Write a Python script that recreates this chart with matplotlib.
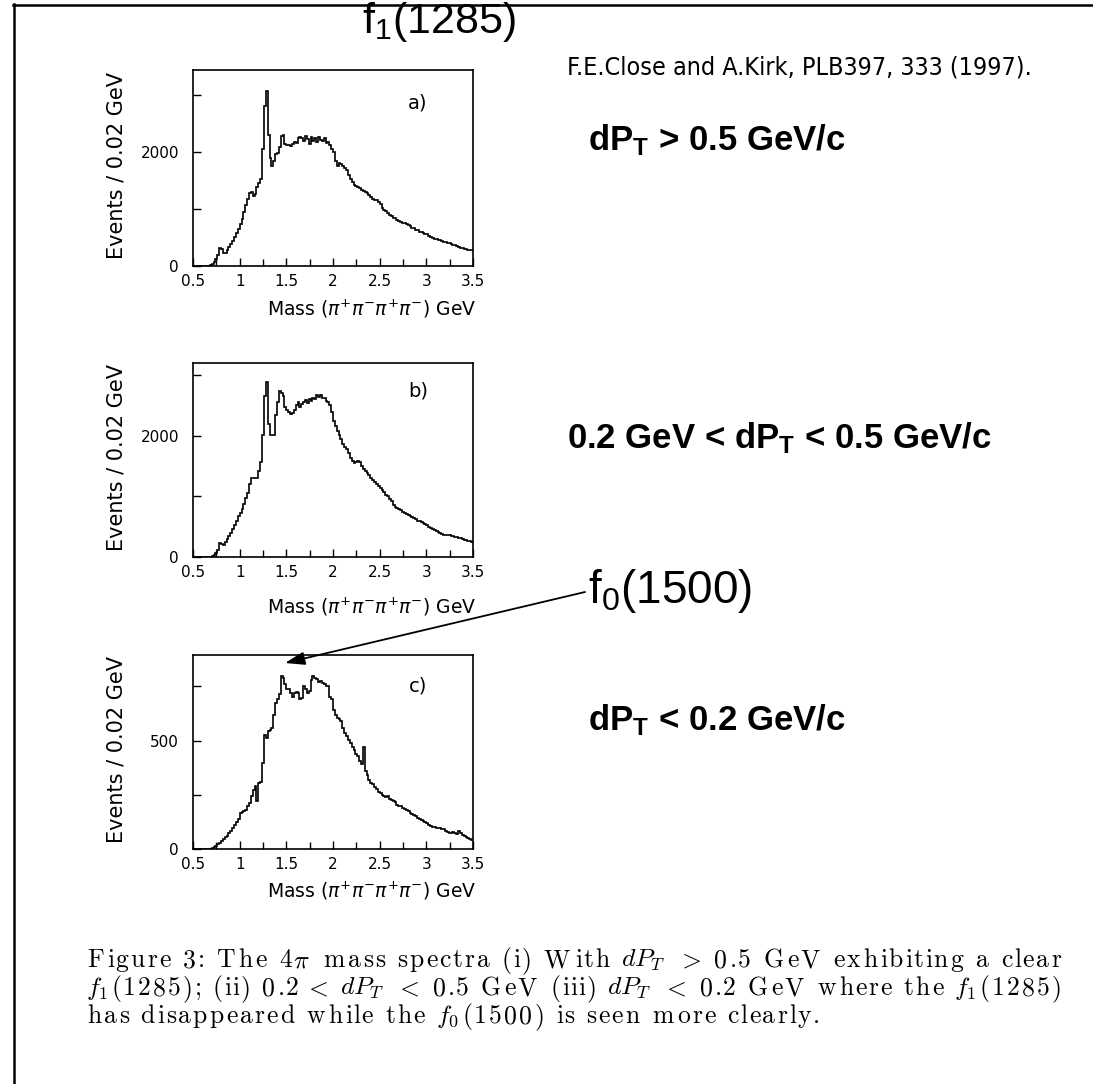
import re
import numpy as np
import matplotlib
matplotlib.use('Agg')
import matplotlib.pyplot as plt
from matplotlib import font_manager
from matplotlib.font_manager import FontProperties
from matplotlib.lines import Line2D
from matplotlib.patches import FancyArrowPatch
from matplotlib.textpath import TextPath

W, H = 1093, 1084

# 4pi mass spectra, 0.02 GeV bins starting at 0.5 GeV
mass_lo = 0.5
bin_width = 0.02

counts_a = [
    0, 0, 0, 0, 0, 0, 0, 0, 0, 10,
    40, 70, 120, 200, 310, 300, 220, 230, 280, 330,
    390, 440, 510, 580, 650, 740, 830, 940, 1070, 1180,
    1290, 1300, 1230, 1260, 1380, 1450, 1520, 2050, 2800, 3080,
    2300, 1900, 1760, 1850, 1960, 1980, 2080, 2290, 2300, 2150,
    2120, 2130, 2100, 2140, 2180, 2160, 2240, 2270, 2250, 2200,
    2280, 2230, 2150, 2270, 2200, 2250, 2170, 2260, 2220, 2200,
    2240, 2160, 2180, 2120, 2060, 2000, 1840, 1760, 1800, 1790,
    1760, 1720, 1690, 1600, 1520, 1470, 1430, 1400, 1390, 1370,
    1340, 1310, 1300, 1280, 1240, 1210, 1180, 1160, 1150, 1130,
    1080, 1020, 985, 960, 930, 900, 870, 850, 835, 810,
    790, 775, 760, 750, 735, 715, 695, 670, 660, 640,
    625, 605, 590, 580, 570, 555, 530, 510, 495, 480,
    470, 460, 450, 440, 430, 420, 410, 395, 380, 370,
    360, 350, 335, 320, 310, 300, 295, 285, 280, 275,
]

counts_b = [
    0, 0, 0, 0, 0, 0, 0, 0, 0, 5,
    20, 40, 60, 120, 230, 220, 200, 240, 290, 340,
    400, 460, 520, 600, 670, 720, 800, 880, 980, 1060,
    1200, 1310, 1300, 1300, 1310, 1420, 1560, 2020, 2650, 2890,
    2200, 2010, 2010, 2020, 2350, 2550, 2730, 2700, 2650, 2480,
    2420, 2400, 2360, 2380, 2420, 2500, 2550, 2470, 2520, 2560,
    2590, 2540, 2600, 2570, 2630, 2600, 2670, 2640, 2680, 2620,
    2620, 2580, 2560, 2500, 2400, 2240, 2160, 2080, 2010, 1950,
    1870, 1810, 1780, 1720, 1640, 1580, 1550, 1560, 1580, 1570,
    1500, 1450, 1420, 1385, 1350, 1310, 1270, 1245, 1200, 1170,
    1135, 1100, 1070, 1030, 1000, 960, 920, 860, 830, 810,
    790, 770, 745, 725, 705, 690, 675, 660, 640, 620,
    600, 590, 575, 560, 540, 520, 500, 480, 460, 450,
    430, 410, 395, 380, 370, 365, 360, 355, 350, 340,
    335, 330, 320, 310, 300, 285, 280, 270, 265, 255,
]

counts_c = [
    0, 0, 0, 0, 0, 0, 0, 0, 0, 0,
    5, 10, 15, 22, 28, 35, 45, 55, 62, 75,
    85, 97, 110, 125, 140, 166, 170, 175, 182, 198,
    212, 245, 274, 290, 220, 305, 310, 397, 528, 510,
    543, 551, 560, 620, 674, 690, 713, 797, 790, 760,
    740, 736, 720, 700, 720, 725, 720, 690, 697, 751,
    740, 720, 730, 780, 800, 790, 782, 770, 775, 766,
    760, 751, 751, 700, 690, 640, 620, 605, 600, 590,
    560, 535, 520, 505, 490, 470, 458, 440, 430, 405,
    390, 470, 360, 340, 320, 305, 300, 285, 275, 265,
    258, 250, 245, 240, 243, 230, 225, 220, 215, 205,
    200, 197, 190, 185, 178, 174, 168, 160, 155, 151,
    145, 140, 135, 128, 125, 118, 112, 105, 102, 100,
    99, 97, 95, 92, 90, 85, 80, 75, 74, 78,
    74, 70, 82, 75, 65, 58, 55, 50, 47, 43,
]

panel_counts = [counts_a, counts_b, counts_c]
panel_tags = ['a)', 'b)', 'c)']
y_max = [3440, 3200, 895]
y_tick_step = [1000, 1000, 250]
y_label_step = [2000, 2000, 500]
x_tick_labels = ['0.5', '1', '1.5', '2', '2.5', '3', '3.5']

cut_texts = [r'dP$_\mathbf{T}$ > 0.5 GeV/c',
             r'0.2 GeV < dP$_\mathbf{T}$ < 0.5 GeV/c',
             r'dP$_\mathbf{T}$ < 0.2 GeV/c']
reference_text = 'F.E.Close and A.Kirk, PLB397, 333 (1997).'
caption_lines = [
    r'Figure 3: The 4$\pi$ mass spectra (i) With $dP_T$ $>$ 0.5 GeV exhibiting a clear',
    r'$f_1$(1285); (ii) 0.2 $<$ $dP_T$ $<$ 0.5 GeV (iii) $dP_T$ $<$ 0.2 GeV where the $f_1$(1285)',
    r'has disappeared while the $f_0$(1500) is seen more clearly.',
]

# layout in pixels (left, top, right, bottom) of each histogram frame
boxes = [(193, 70, 473, 266), (193, 363, 473, 557), (193, 655, 473, 849)]
mass_label_drop = [50, 56, 48]
tag_drop = [33, 28, 31]
cut_pos = [(588, 150), (567, 448), (588, 730)]

plt.rcParams['mathtext.fontset'] = 'custom'
plt.rcParams['mathtext.rm'] = 'Liberation Sans'
plt.rcParams['mathtext.bf'] = 'Liberation Sans:bold'
plt.rcParams['mathtext.it'] = 'Liberation Sans:italic'


def fpos(x, y):
    return x / W, 1 - y / H


fig = plt.figure(figsize=(W / 100, H / 100), dpi=100)
renderer = fig.canvas.get_renderer()

# the reference line is set in a narrow sans; use one if installed
narrow_prop = FontProperties(family='Liberation Sans')
for f in font_manager.fontManager.ttflist:
    if ('Narrow' in f.name or 'Condensed' in f.name or f.stretch == 'condensed') \
            and f.style == 'normal' and f.weight in (400, 'normal', 'regular'):
        narrow_prop = FontProperties(fname=f.fname)
        break
narrow_prop.set_size(20)
w20 = renderer.get_text_width_height_descent(reference_text, narrow_prop, ismath=False)[0]
narrow_prop.set_size(20 * 466 / w20)

edges = mass_lo + bin_width * np.arange(len(counts_a) + 1)

for i, counts in enumerate(panel_counts):
    l, t, r, b = boxes[i]
    ax = fig.add_axes([l / W, 1 - b / H, (r - l) / W, (b - t) / H])
    ax.stairs(counts, edges, color='black', lw=1.2, baseline=None)
    ax.set_xlim(0.5, 3.5)
    ax.set_ylim(0, y_max[i])

    ax.set_xticks(np.arange(0.5, 3.51, 0.5))
    ax.set_xticklabels(x_tick_labels)
    ax.set_xticks(np.arange(0.75, 3.5, 0.5), minor=True)
    yt = np.arange(0, y_max[i], y_tick_step[i])
    ax.set_yticks(yt)
    ax.set_yticklabels([str(int(v)) if v % y_label_step[i] == 0 else '' for v in yt])

    ax.tick_params(direction='in', top=False, right=False, length=6, width=1,
                   labelsize=11)
    ax.tick_params(axis='x', which='major', pad=6)
    ax.tick_params(axis='y', which='major', pad=10)
    ax.tick_params(which='minor', direction='in', length=5, width=1, top=False)
    for s in ax.spines.values():
        s.set_linewidth(1.2)

    h = b - t
    ax.text(-0.275, 0.515, 'Events / 0.02 GeV', rotation=90, transform=ax.transAxes,
            ha='center', va='center', fontsize=15)
    ax.text((476 - l) / (r - l), -mass_label_drop[i] / h,
            r'Mass ($\pi^{+}\pi^{-}\pi^{+}\pi^{-}$) GeV', transform=ax.transAxes,
            ha='right', va='baseline', fontsize=13.5, math_fontfamily='dejavusans')
    ax.text((418 - l) / (r - l), 1 - tag_drop[i] / h, panel_tags[i],
            transform=ax.transAxes, ha='center', va='center', fontsize=14)

    fig.text(*fpos(*cut_pos[i]), cut_texts[i], fontsize=25, fontweight='bold',
             family='Liberation Sans', va='baseline')

fig.text(*fpos(362, 33), r'f$_\mathrm{1}$(1285)', fontsize=31,
         family='Liberation Sans', va='baseline')
fig.text(*fpos(588, 603), r'f$_\mathrm{0}$(1500)', fontsize=33,
         family='Liberation Sans', va='baseline')
fig.text(*fpos(567, 75), reference_text, fontproperties=narrow_prop, va='baseline')

arrow = FancyArrowPatch(fpos(585, 592), fpos(285, 663), transform=fig.transFigure,
                        arrowstyle='-|>,head_length=0.6,head_width=0.2',
                        mutation_scale=20, color='black', lw=1.3,
                        shrinkA=0, shrinkB=0)
fig.add_artist(arrow)

# caption: the scanned caption is stretched sideways, so lay the characters
# out one by one with a slightly wider advance
cap_prop = FontProperties(family='cmr10', size=18.5, math_fontfamily='cm')


def text_w(s):
    return renderer.get_text_width_height_descent(s, cap_prop, ismath=False)[0]


def math_ink(s):
    # left/right ink edges of a math piece, points -> pixels
    ext = TextPath((0, 0), s, prop=cap_prop).get_extents()
    return ext.x0 * 100 / 72, ext.x1 * 100 / 72


def layout(line):
    units = re.findall(r'\$[^$]*\$|.', line)
    base = text_w('[]')
    out = []
    for u in units:
        if u.startswith('$'):
            x0, x1 = math_ink(u)
            out.append((u, max(x0, 0), x1 - max(x0, 0) + 2))
        else:
            out.append((u, 0, text_w('[' + u + ']') - base))
    return out


cap_x0, cap_x1 = 87, 1063
cap_base = [967, 995, 1023]
laid = [layout(line) for line in caption_lines]
stretches = [(cap_x1 - cap_x0) / sum(a for _, _, a in lay) for lay in laid[:2]]
stretches.append(np.mean(stretches))
for k, lay in enumerate(laid):
    x = cap_x0
    for u, shift, a in lay:
        if u != ' ':
            fig.text(*fpos(x - shift, cap_base[k]), u, fontproperties=cap_prop,
                     va='baseline')
        x += a * stretches[k]

# page frame (left and top edges only)
fig.add_artist(Line2D([14 / W, 14 / W], [1 - 4 / H, 0], transform=fig.transFigure,
                      color='black', lw=1.8))
fig.add_artist(Line2D([13 / W, 1], [1 - 5 / H, 1 - 5 / H], transform=fig.transFigure,
                      color='black', lw=1.8))

fig.savefig('out.png', dpi=100)
